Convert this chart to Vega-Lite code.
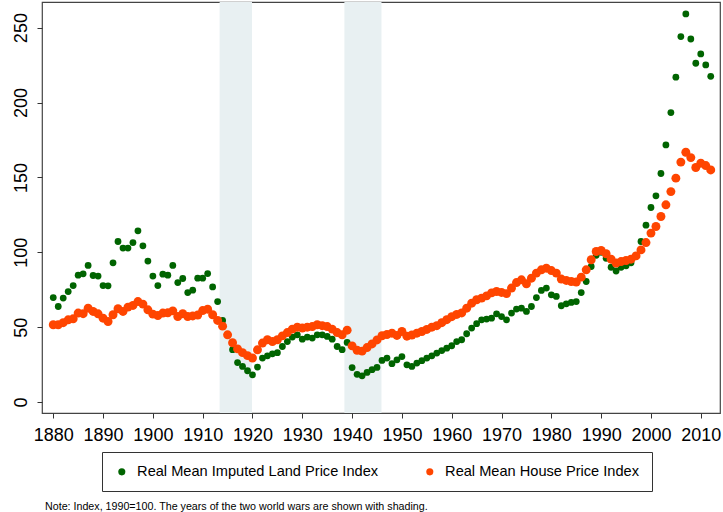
{
  "$schema": "https://vega.github.io/schema/vega-lite/v6.json",
  "width": 678,
  "height": 411,
  "autosize": {"type": "none"},
  "padding": {"left": 42, "top": 2, "right": 3, "bottom": 99},
  "background": "white",
  "config": {
    "font": "Liberation Sans",
    "view": {"stroke": "#444444", "strokeWidth": 1.2},
    "axis": {"domain": false, "grid": false, "ticks": true, "tickSize": 5, "tickColor": "#333333", "tickWidth": 1, "labelFontSize": 18, "labelColor": "#000000", "title": null}
  },
  "title": {
    "text": "Note: Index, 1990=100. The years of the two world wars are shown with shading.",
    "orient": "bottom",
    "anchor": "start",
    "frame": "group",
    "fontSize": 10.7,
    "fontWeight": "normal",
    "color": "#000000",
    "dx": 3,
    "offset": 10
  },
  "data": {
    "values": [
      {"year":1880,"land":69.8,"house":51.6},{"year":1881,"land":63.8,"house":51.6},{"year":1882,"land":69.4,"house":53},{"year":1883,"land":73.8,"house":54.9},{"year":1884,"land":77.8,"house":55.6},{"year":1885,"land":84.7,"house":59.4},{"year":1886,"land":85.6,"house":59},{"year":1887,"land":91.2,"house":62.7},{"year":1888,"land":84.5,"house":60.5},{"year":1889,"land":84.1,"house":58.9},
      {"year":1890,"land":77.8,"house":56},{"year":1891,"land":77.6,"house":53.8},{"year":1892,"land":93,"house":58.3},{"year":1893,"land":107.2,"house":62.3},{"year":1894,"land":102.8,"house":60.5},{"year":1895,"land":102.8,"house":63.4},{"year":1896,"land":106.5,"house":64.5},{"year":1897,"land":114.3,"house":67.1},{"year":1898,"land":104.3,"house":65.4},{"year":1899,"land":94.1,"house":61.6},
      {"year":1900,"land":84.1,"house":58.7},{"year":1901,"land":77.8,"house":57.8},{"year":1902,"land":85.4,"house":59.4},{"year":1903,"land":84.7,"house":59.6},{"year":1904,"land":91.2,"house":60.9},{"year":1905,"land":79.8,"house":57.1},{"year":1906,"land":82.5,"house":59},{"year":1907,"land":73.1,"house":57.1},{"year":1908,"land":74.7,"house":57.5},{"year":1909,"land":82.7,"house":58.1},
      {"year":1910,"land":82.7,"house":61.1},{"year":1911,"land":85.8,"house":62},{"year":1912,"land":76.9,"house":58.3},{"year":1913,"land":67.1,"house":54.5},{"year":1914,"land":54.5,"house":50.7},{"year":1915,"land":45,"house":44.9},{"year":1916,"land":35,"house":39.6},{"year":1917,"land":26.4,"house":35.5},{"year":1918,"land":23.8,"house":33},{"year":1919,"land":20.9,"house":31},
      {"year":1920,"land":18.2,"house":29.4},{"year":1921,"land":23.4,"house":34.9},{"year":1922,"land":29.4,"house":39.4},{"year":1923,"land":30.9,"house":41.6},{"year":1924,"land":32.2,"house":40.4},{"year":1925,"land":33,"house":41.6},{"year":1926,"land":37.1,"house":44.2},{"year":1927,"land":40.4,"house":46.4},{"year":1928,"land":43.4,"house":48.7},{"year":1929,"land":44.9,"house":50},
      {"year":1930,"land":42,"house":49.4},{"year":1931,"land":43.4,"house":50},{"year":1932,"land":42.7,"house":50.4},{"year":1933,"land":44.9,"house":51.6},{"year":1934,"land":44.9,"house":51},{"year":1935,"land":43.8,"house":50.4},{"year":1936,"land":42,"house":48.7},{"year":1937,"land":37.1,"house":46.4},{"year":1938,"land":35,"house":44.9},{"year":1939,"land":39.8,"house":48},
      {"year":1940,"land":23,"house":37.5},{"year":1941,"land":18.5,"house":34.6},{"year":1942,"land":17.5,"house":34},{"year":1943,"land":19.8,"house":36.4},{"year":1944,"land":21.6,"house":38.8},{"year":1945,"land":23.1,"house":41.5},{"year":1946,"land":27.8,"house":44.3},{"year":1947,"land":29.4,"house":45.1},{"year":1948,"land":25.6,"house":46},{"year":1949,"land":28.2,"house":44.5},
      {"year":1950,"land":30.4,"house":47.1},{"year":1951,"land":24.9,"house":44},{"year":1952,"land":23.8,"house":44.8},{"year":1953,"land":26,"house":46},{"year":1954,"land":27.6,"house":47.1},{"year":1955,"land":29.4,"house":48.5},{"year":1956,"land":30.9,"house":50},{"year":1957,"land":32.7,"house":51},{"year":1958,"land":34.4,"house":53},{"year":1959,"land":36,"house":55},
      {"year":1960,"land":37.6,"house":57},{"year":1961,"land":40.4,"house":58.5},{"year":1962,"land":41.6,"house":59.5},{"year":1963,"land":45.6,"house":62.7},{"year":1964,"land":49.4,"house":66},{"year":1965,"land":52.3,"house":68.3},{"year":1966,"land":54.9,"house":69.4},{"year":1967,"land":55.4,"house":70.9},{"year":1968,"land":56,"house":72.9},{"year":1969,"land":58.9,"house":73.8},
      {"year":1970,"land":57.1,"house":73.2},{"year":1971,"land":54.9,"house":72.4},{"year":1972,"land":59.4,"house":76.1},{"year":1973,"land":62.1,"house":79.8},{"year":1974,"land":62.7,"house":81.6},{"year":1975,"land":60.5,"house":79},{"year":1976,"land":63.8,"house":82.7},{"year":1977,"land":69.8,"house":86.1},{"year":1978,"land":74.5,"house":88.3},{"year":1979,"land":76.1,"house":89.4},
      {"year":1980,"land":71.6,"house":87.8},{"year":1981,"land":70.5,"house":86.1},{"year":1982,"land":64.3,"house":82.1},{"year":1983,"land":65.6,"house":81.2},{"year":1984,"land":66.5,"house":80.5},{"year":1985,"land":67.1,"house":80.1},{"year":1986,"land":73.1,"house":83.4},{"year":1987,"land":80.5,"house":88.3},{"year":1988,"land":90.5,"house":95},{"year":1989,"land":98,"house":100.5},
      {"year":1990,"land":100,"house":101.2},{"year":1991,"land":96,"house":99},{"year":1992,"land":90,"house":95.4},{"year":1993,"land":87.5,"house":92.8},{"year":1994,"land":90,"house":93.8},{"year":1995,"land":91,"house":94.5},{"year":1996,"land":93,"house":95.4},{"year":1997,"land":98,"house":97.6},{"year":1998,"land":107.2,"house":101.6},{"year":1999,"land":118.1,"house":106.5},
      {"year":2000,"land":129.9,"house":112.8},{"year":2001,"land":137.7,"house":117.2},{"year":2002,"land":152.6,"house":123.9},{"year":2003,"land":171.7,"house":131.7},{"year":2004,"land":193.3,"house":140.5},{"year":2005,"land":216.9,"house":149.5},{"year":2006,"land":244,"house":160.2},{"year":2007,"land":259.1,"house":166.8},{"year":2008,"land":242.4,"house":163.2},{"year":2009,"land":226.2,"house":156.6},
      {"year":2010,"land":232.4,"house":159.5},{"year":2011,"land":225.1,"house":157.9},{"year":2012,"land":217.5,"house":155}
    ]
  },
  "layer": [
    {
      "data": {"values": [{"start": 1913.4, "end": 1919.9}, {"start": 1938.45, "end": 1945.9}]},
      "mark": {"type": "rect", "color": "#e8f0f2"},
      "encoding": {
        "x": {"field": "start", "type": "quantitative", "scale": {"domain": [1877.74, 2013.86], "nice": false, "zero": false},
              "axis": {"values": [1880,1890,1900,1910,1920,1930,1940,1950,1960,1970,1980,1990,2000,2010], "format": "d", "labelPadding": 8}},
        "x2": {"field": "end"}
      }
    },
    {
      "mark": {"type": "point", "filled": true, "opacity": 1, "size": 46, "shape": "circle"},
      "encoding": {
        "x": {"field": "year", "type": "quantitative"},
        "y": {"field": "land", "type": "quantitative", "scale": {"domain": [-7.3, 267.1], "nice": false, "zero": false},
              "axis": {"values": [0,50,100,150,200,250], "labelAngle": -90, "labelAlign": "center", "labelBaseline": "alphabetic", "labelPadding": 11}},
        "color": {"datum": "Real Mean Imputed Land Price Index", "type": "nominal",
                  "scale": {"domain": ["Real Mean Imputed Land Price Index", "Real Mean House Price Index"], "range": ["#006400", "#ff4500"]},
                  "legend": {"orient": "none", "legendX": 60, "legendY": 450, "direction": "horizontal", "title": null,
                             "strokeColor": "#333333", "fillColor": "#ffffff", "padding": 12.5,
                             "labelFontSize": 14.6, "labelColor": "#000000", "labelLimit": 400, "labelOffset": 8,
                             "symbolType": "circle", "symbolSize": 50, "columnPadding": 44,
                             "encode": {"symbols": {"update": {"size": {"signal": "datum.value === 'Real Mean House Price Index' ? 80 : 42"}}}}}}
      }
    },
    {
      "mark": {"type": "point", "filled": true, "opacity": 1, "size": 80, "shape": "circle"},
      "encoding": {
        "x": {"field": "year", "type": "quantitative"},
        "y": {"field": "house", "type": "quantitative"},
        "color": {"datum": "Real Mean House Price Index", "type": "nominal"}
      }
    }
  ]
}
